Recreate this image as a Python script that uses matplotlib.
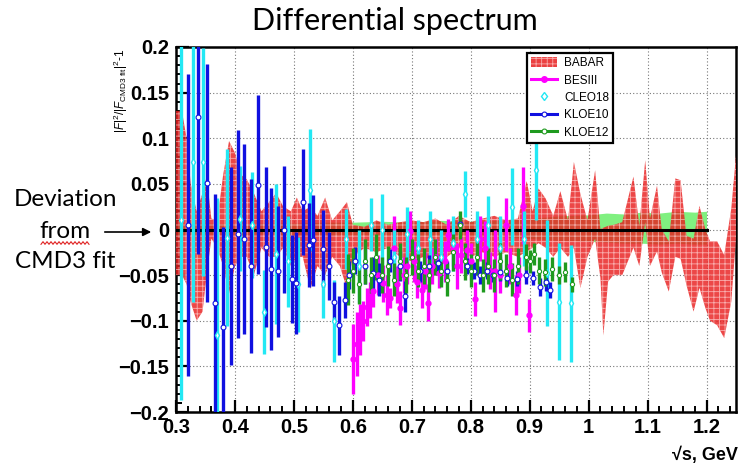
import matplotlib
matplotlib.use('Agg')
import numpy as np
import matplotlib.pyplot as plt
from matplotlib.lines import Line2D
from matplotlib.patches import Patch, FancyArrowPatch
from matplotlib.ticker import MultipleLocator, FuncFormatter

# ---------------- data ----------------
# BABAR band: sqrt(s), lower, upper
babar_x = [0.300, 0.310, 0.318, 0.325, 0.335, 0.345, 0.352, 0.360, 0.370, 0.380, 0.390, 0.400,
           0.410, 0.420, 0.432, 0.445, 0.458, 0.470, 0.482, 0.495, 0.505, 0.515, 0.528, 0.540,
           0.553, 0.565, 0.578, 0.590, 0.600, 0.620, 0.640, 0.660, 0.680, 0.700, 0.720, 0.740,
           0.760, 0.780, 0.800, 0.820, 0.840, 0.860, 0.880, 0.895, 0.905, 0.915, 0.927, 0.940,
           0.952, 0.965, 0.975, 0.986, 0.998, 1.011, 1.020, 1.025, 1.033, 1.042, 1.057, 1.076,
           1.086, 1.096, 1.104, 1.116, 1.124, 1.136, 1.147, 1.156, 1.166, 1.178, 1.188, 1.198,
           1.206, 1.218, 1.230, 1.242, 1.250]
babar_lo = [-0.050, -0.050, -0.060, -0.080, -0.100, -0.090, -0.050, -0.010, -0.020, -0.040, -0.070, -0.040,
            -0.030, -0.030, -0.050, -0.020, -0.030, -0.030, -0.020, -0.040, -0.030, -0.030, -0.065, -0.040,
            -0.050, -0.030, -0.040, -0.065, -0.030, -0.020, -0.025, -0.020, -0.030, -0.035, -0.030, -0.035,
            -0.030, -0.020, -0.030, -0.025, -0.030, -0.025, -0.030, -0.024, -0.020, -0.015, -0.020, -0.030,
            -0.020, -0.030, -0.020, -0.064, -0.030, -0.010, -0.053, -0.116, -0.057, -0.050, -0.050, -0.020,
            -0.040, 0.008, -0.040, -0.024, -0.047, -0.068, -0.030, -0.032, -0.061, -0.090, -0.064, -0.086,
            -0.100, -0.105, -0.119, -0.079, -0.010]
babar_hi = [0.130, 0.130, 0.100, 0.050, 0.020, 0.040, 0.058, 0.012, 0.010, 0.060, 0.097, 0.084,
            0.060, 0.055, 0.040, 0.020, 0.030, 0.040, 0.025, 0.020, 0.035, 0.020, 0.025, 0.015,
            0.035, 0.010, 0.020, 0.030, 0.005, 0.003, 0.010, 0.005, 0.008, 0.010, 0.008, 0.012,
            0.005, 0.015, 0.008, 0.012, 0.015, 0.010, 0.012, 0.053, 0.020, 0.045, 0.034, 0.015,
            0.042, 0.010, 0.074, 0.039, 0.010, 0.065, 0.000, 0.002, 0.004, 0.005, 0.008, 0.058,
            0.004, 0.076, 0.012, 0.048, 0.000, -0.013, 0.056, 0.054, -0.007, -0.010, 0.026, 0.000,
            -0.013, -0.013, -0.028, 0.023, 0.081]

# CMD3 fit uncertainty band
band_x = [0.30, 0.35, 0.40, 0.45, 0.50, 0.55, 0.60, 0.65, 0.70, 0.75, 0.80, 0.85, 0.90, 0.95,
          1.00, 1.03, 1.06, 1.09, 1.12, 1.15, 1.18, 1.20]
band_lo = [-0.006, -0.005, -0.006, -0.005, -0.006, -0.006, -0.006, -0.006, -0.007, -0.006, -0.007, -0.008,
           -0.010, -0.012, -0.013, -0.014, -0.015, -0.015, -0.016, -0.015, -0.016, -0.016]
band_hi = [0.006, 0.007, 0.006, 0.007, 0.007, 0.008, 0.008, 0.009, 0.008, 0.010, 0.009, 0.010,
           0.012, 0.015, 0.016, 0.018, 0.017, 0.019, 0.018, 0.020, 0.019, 0.020]
fit_range = [0.30, 1.20]
fit_zero = [0.0, 0.0]

# BESIII
bes_x = [0.600, 0.607, 0.612, 0.618, 0.624, 0.629, 0.635, 0.643, 0.652, 0.658, 0.663, 0.669,
         0.675, 0.680, 0.686, 0.692, 0.697, 0.703, 0.708, 0.717, 0.722, 0.727, 0.735, 0.741,
         0.747, 0.756, 0.762, 0.770, 0.777, 0.784, 0.794, 0.800, 0.808, 0.815, 0.825, 0.833,
         0.842, 0.850, 0.859, 0.867, 0.876, 0.882, 0.888, 0.898]
bes_y = [-0.142, -0.125, -0.110, -0.100, -0.085, -0.077, -0.067, -0.050, -0.059, -0.072, -0.075, -0.020,
         -0.060, -0.086, -0.050, -0.040, -0.002, -0.035, -0.057, -0.066, -0.045, -0.080, -0.040, -0.030,
         -0.048, -0.035, -0.006, -0.020, -0.040, -0.028, -0.022, -0.035, -0.076, -0.010, -0.020, -0.045,
         -0.045, -0.050, 0.005, -0.040, -0.072, -0.050, 0.026, -0.094]
bes_e = [0.038, 0.035, 0.028, 0.022, 0.021, 0.020, 0.018, 0.022, 0.020, 0.022, 0.011, 0.035,
         0.020, 0.019, 0.020, 0.020, 0.022, 0.022, 0.018, 0.020, 0.020, 0.020, 0.020, 0.020,
         0.016, 0.022, 0.018, 0.020, 0.025, 0.020, 0.022, 0.020, 0.019, 0.025, 0.029, 0.020,
         0.045, 0.020, 0.029, 0.020, 0.022, 0.020, 0.042, 0.018]

# CLEO18
cleo_x = [0.308, 0.328, 0.345, 0.369, 0.387, 0.408, 0.429, 0.449, 0.469, 0.490, 0.507, 0.527,
          0.549, 0.568, 0.588, 0.611, 0.631, 0.650, 0.670, 0.692, 0.711, 0.731, 0.750, 0.770,
          0.790, 0.810, 0.830, 0.850, 0.870, 0.890, 0.911, 0.930, 0.950, 0.970]
cleo_y = [0.010, 0.074, 0.074, -0.116, -0.009, 0.012, 0.005, -0.090, -0.027, -0.035, -0.060, 0.043,
          -0.060, -0.100, -0.010, -0.040, 0.005, 0.000, -0.030, -0.005, -0.020, -0.010, -0.030, -0.015,
          0.039, -0.010, 0.005, -0.020, 0.025, -0.010, 0.065, -0.048, -0.079, -0.081]
cleo_e = [0.197, 0.153, 0.125, 0.150, 0.097, 0.058, 0.058, 0.046, 0.077, 0.050, 0.052, 0.067,
          0.037, 0.045, 0.033, 0.040, 0.029, 0.039, 0.030, 0.030, 0.030, 0.030, 0.030, 0.030,
          0.025, 0.030, 0.032, 0.035, 0.042, 0.030, 0.055, 0.058, 0.064, 0.064]

# KLOE10
k10_x = [0.321, 0.337, 0.352, 0.366, 0.380, 0.393, 0.405, 0.416, 0.428, 0.439, 0.452, 0.462,
         0.473, 0.484, 0.496, 0.503, 0.515, 0.526, 0.533, 0.549, 0.559, 0.568, 0.577, 0.586,
         0.593, 0.603, 0.620, 0.635, 0.645, 0.663, 0.680, 0.688, 0.714, 0.730, 0.745, 0.760,
         0.782, 0.794, 0.805, 0.816, 0.828, 0.838, 0.850, 0.862, 0.879, 0.893, 0.906, 0.918,
         0.928, 0.935]
k10_y = [0.005, 0.123, 0.051, -0.081, -0.107, -0.040, -0.005, -0.010, -0.040, 0.049, -0.019, -0.043,
         -0.046, 0.000, -0.054, -0.059, 0.030, -0.017, -0.012, -0.021, -0.040, -0.079, -0.105, -0.077,
         -0.050, -0.034, -0.040, -0.048, -0.055, -0.034, -0.040, -0.073, -0.046, -0.040, -0.037, -0.045,
         0.006, -0.040, -0.045, -0.050, -0.045, -0.050, -0.047, -0.053, -0.054, -0.050, -0.053, -0.063,
         -0.057, -0.066]
k10_e = [0.165, 0.150, 0.130, 0.120, 0.110, 0.108, 0.114, 0.104, 0.095, 0.098, 0.088, 0.089,
         0.072, 0.070, 0.048, 0.056, 0.058, 0.046, 0.050, 0.042, 0.037, 0.022, 0.032, 0.020,
         0.015, 0.015, 0.020, 0.018, 0.018, 0.013, 0.016, 0.017, 0.011, 0.012, 0.009, 0.010,
         0.007, 0.009, 0.009, 0.010, 0.009, 0.008, 0.009, 0.009, 0.008, 0.010, 0.008, 0.010,
         0.010, 0.009]

# KLOE12
k12_x = [0.592, 0.600, 0.610, 0.620, 0.630, 0.640, 0.650, 0.660, 0.670, 0.680, 0.690, 0.700,
         0.710, 0.720, 0.730, 0.740, 0.750, 0.760, 0.770, 0.782, 0.790, 0.800, 0.810, 0.820,
         0.830, 0.840, 0.850, 0.860, 0.870, 0.880, 0.893, 0.900, 0.907, 0.915, 0.926, 0.938,
         0.950, 0.960, 0.972]
k12_y = [-0.055, -0.045, -0.060, -0.035, -0.050, -0.030, -0.050, -0.040, -0.055, -0.035, -0.050, -0.030,
         -0.045, -0.040, -0.050, -0.030, -0.045, -0.055, -0.025, 0.005, -0.035, -0.045, -0.030, -0.050,
         -0.040, -0.050, -0.035, -0.045, -0.055, -0.040, -0.030, -0.035, -0.027, -0.045, -0.047, -0.043,
         -0.050, -0.047, -0.060]
k12_e = [0.028, 0.025, 0.022, 0.025, 0.020, 0.025, 0.020, 0.022, 0.018, 0.020, 0.020, 0.020,
         0.018, 0.020, 0.018, 0.020, 0.018, 0.018, 0.020, 0.015, 0.020, 0.018, 0.020, 0.018,
         0.020, 0.018, 0.020, 0.018, 0.018, 0.020, 0.014, 0.013, 0.012, 0.015, 0.015, 0.013,
         0.010, 0.011, 0.008]

legend_labels = ['BABAR', 'BESIII', 'CLEO18', 'KLOE10', 'KLOE12']

# ---------------- styling ----------------
plt.rcParams['mathtext.fontset'] = 'custom'
plt.rcParams['mathtext.rm'] = 'Liberation Sans'
plt.rcParams['mathtext.it'] = 'Liberation Sans:italic'
plt.rcParams['hatch.linewidth'] = 0.6

RED = '#e8202a'
MAG = '#ff00ff'
CYAN = '#22e8f4'
BLUE = '#1010e0'
GREEN = '#1e9a1e'
LGREEN = '#80f080'
HATCH_C = (1.0, 0.85, 0.85, 0.7)

fig = plt.figure(figsize=(7.4, 4.66), dpi=100)
L, R, T, B = 176, 736, 47, 412
ax = fig.add_axes([L / 740, 1 - B / 466, (R - L) / 740, (B - T) / 466])

ax.set_xlim(0.3, 1.25)
ax.set_ylim(-0.2, 0.2)

ax.grid(True, which='major', color='#777777', linestyle=(0, (1, 2)), linewidth=0.8, zorder=1)
ax.set_axisbelow(True)

ax.fill_between(band_x, band_lo, band_hi, color=LGREEN, lw=0, zorder=2)
ax.fill_between(babar_x, babar_lo, babar_hi, facecolor=(0.91, 0.12, 0.12, 0.82),
                edgecolor=HATCH_C, hatch='+++', linewidth=0, zorder=3)
ax.plot(fit_range, fit_zero, color='black', lw=2.2, zorder=4)

ax.errorbar(bes_x, bes_y, yerr=bes_e, fmt='o', color=MAG, ms=3.5, mec=MAG, mfc=MAG,
            elinewidth=2.4, capsize=0, zorder=5)
ax.errorbar(cleo_x, cleo_y, yerr=cleo_e, fmt='d', color=CYAN, ms=4, mec=CYAN, mfc='white',
            elinewidth=2.4, capsize=0, zorder=5)
ax.errorbar(k10_x, k10_y, yerr=k10_e, fmt='o', color=BLUE, ms=3.5, mec=BLUE, mfc='white',
            mew=0.8, elinewidth=2.4, capsize=0, zorder=5)
ax.errorbar(k12_x, k12_y, yerr=k12_e, fmt='o', color=GREEN, ms=3, mec=GREEN, mfc='white',
            mew=0.8, elinewidth=2.4, capsize=0, zorder=5)

# ticks
ax.xaxis.set_major_locator(MultipleLocator(0.1))
ax.xaxis.set_minor_locator(MultipleLocator(0.02))
ax.yaxis.set_major_locator(MultipleLocator(0.05))
ax.yaxis.set_minor_locator(MultipleLocator(0.01))


def fmt(v, pos):
    s = f'{v:.2f}'.rstrip('0').rstrip('.')
    if s in ('-0', '0.'):
        s = '0'
    return s.replace('-', '\u2212')


ax.xaxis.set_major_formatter(FuncFormatter(fmt))
ax.yaxis.set_major_formatter(FuncFormatter(fmt))
ax.tick_params(axis='both', which='major', direction='in', length=9, width=1.6,
               top=False, right=False, labelsize=14.5, pad=4)
ax.tick_params(axis='both', which='minor', direction='in', length=4.5, width=1.4,
               top=False, right=False)
ax.tick_params(axis='y', which='major', pad=5)
for lab in ax.get_xticklabels() + ax.get_yticklabels():
    lab.set_fontfamily('Liberation Sans')
    lab.set_fontweight('bold')
for sp in ax.spines.values():
    sp.set_linewidth(1.8)

# legend
handles = [
    Patch(facecolor=(0.91, 0.12, 0.12, 0.85), edgecolor=HATCH_C, hatch='+++', linewidth=0),
    Line2D([], [], color=MAG, lw=2.2, marker='o', ms=4, mfc=MAG, mec=MAG),
    Line2D([], [], color=CYAN, lw=0, marker='d', ms=4.5, mfc='white', mec=CYAN),
    Line2D([], [], color=BLUE, lw=2.2, marker='o', ms=3.5, mfc='white', mec=BLUE, mew=0.8),
    Line2D([], [], color=GREEN, lw=2.2, marker='o', ms=3.5, mfc='white', mec=GREEN, mew=0.8),
]
leg = ax.legend(handles, legend_labels, loc='upper left', bbox_to_anchor=(0.627, 0.983),
                frameon=True, fancybox=False, framealpha=1, edgecolor='black',
                prop={'family': 'Liberation Sans', 'size': 8.5}, handlelength=2.2,
                handleheight=0.9, labelspacing=0.45, borderpad=0.35, handletextpad=0.6,
                borderaxespad=0)
leg.get_frame().set_linewidth(1.6)
leg.set_zorder(10)

# axis titles
fig.text(121 / 740, 1 - 49 / 466, r'$|F|^{2}/|F_{\mathrm{CMD3\ fit}}|^{2}$-1', rotation=90,
         ha='center', va='top', fontsize=8.5, family='Liberation Sans')
fig.text(738 / 740, 1 - 455 / 466, '\u221as, GeV', ha='right', va='center', fontsize=13,
         fontweight='bold', family=['Liberation Sans', 'DejaVu Sans'])

# title
fig.text(395 / 740, 1 - 21 / 466, 'Differential spectrum', ha='center', va='center',
         fontsize=22, family='Lato')

# left annotation
fig.text(65 / 740, 1 - 200 / 466, 'Deviation', ha='center', va='center', fontsize=17.5, family='Lato')
fig.text(65 / 740, 1 - 231 / 466, 'from', ha='center', va='center', fontsize=17.5, family='Lato')
fig.text(65 / 740, 1 - 262 / 466, 'CMD3 fit', ha='center', va='center', fontsize=17.5, family='Lato')
arrow = FancyArrowPatch((102 / 740, 1 - 232 / 466), (154 / 740, 1 - 232 / 466),
                        transform=fig.transFigure, arrowstyle='-|>', mutation_scale=12,
                        color='black', lw=1.2)
fig.patches.append(arrow)

# spell-check squiggle under "from" (decoration)
sq_px = np.linspace(41, 89, 25)
sq_py = 243 + 1.3 * np.where(np.arange(25) % 2 == 0, 1, -1)
fig.add_artist(Line2D(sq_px / 740, 1 - sq_py / 466, transform=fig.transFigure,
                      color='#e02020', lw=0.8))

fig.savefig('out.png', dpi=100)
